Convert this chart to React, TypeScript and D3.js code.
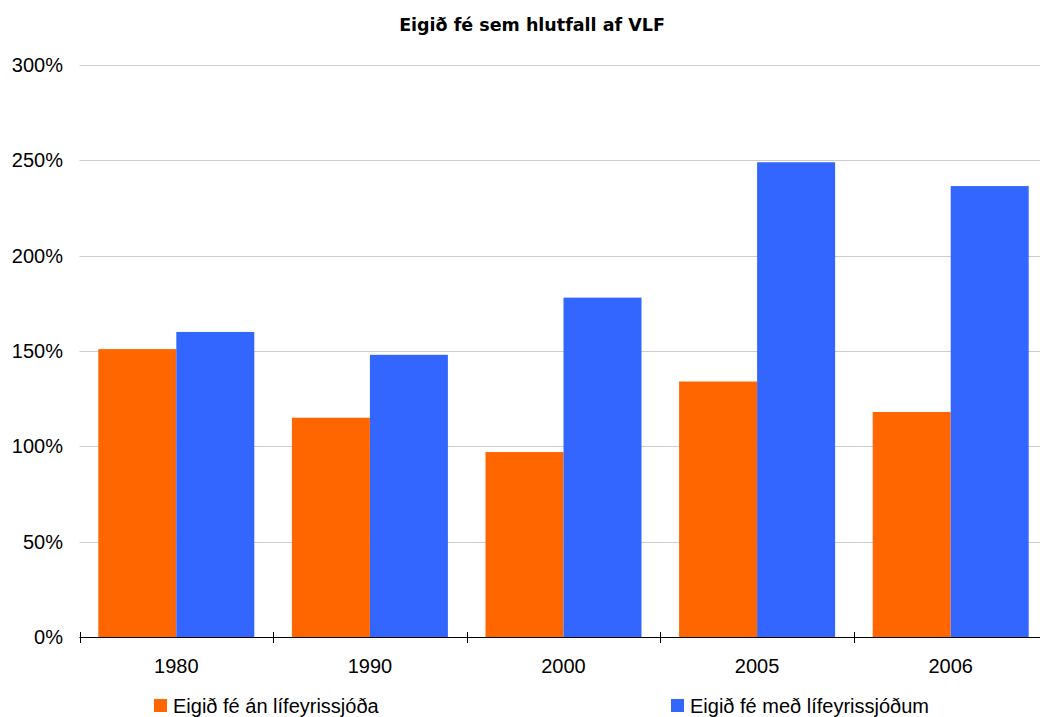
import React from "react";
import * as d3 from "d3";

const categories = ["1980", "1990", "2000", "2005", "2006"];
const seriesNames = ["Eigið fé án lífeyrissjóða", "Eigið fé með lífeyrissjóðum"];
const withoutPension = [151, 115, 97, 134, 118];
const withPension = [160, 148, 178, 249, 236.5];
const yTicks = [0, 50, 100, 150, 200, 250, 300];
const colors = ["#ff6600", "#3366ff"];
const title = "Eigið fé sem hlutfall af VLF";

const W = 1040;
const H = 717;
const FONT = "'Liberation Sans', Arial, sans-serif";

export default function App() {
  const x = d3.scaleBand<string>().domain(categories).range([79.5, 1047.5]).paddingInner(0).paddingOuter(0);
  const xs = d3.scaleBand<number>().domain([0, 1]).range([0, x.bandwidth()]).paddingInner(0).paddingOuter(0.241);
  const y = d3.scaleLinear().domain([0, 300]).range([637, 65]);
  const series = [withoutPension, withPension];

  return (
    <svg width={W} height={H} style={{ position: "absolute", left: 0, top: 0, background: "#fff" }}>
      <rect x={0} y={0} width={W} height={H} fill="#fff" />
      <text x={532} y={31} textAnchor="middle" fontFamily="'DejaVu Sans', Verdana, sans-serif" fontWeight="bold" fontSize={17.5} fill="#000">
        {title}
      </text>
      {yTicks.map((t) => (
        <g key={t}>
          {t > 0 && (
            <line x1={79.5} x2={1040} y1={Math.round(y(t)) + 0.5} y2={Math.round(y(t)) + 0.5} stroke="#cccccc" strokeWidth={1} />
          )}
          <text x={63} y={y(t) + 7} textAnchor="end" fontFamily={FONT} fontSize={20} fill="#000">
            {t}%
          </text>
        </g>
      ))}
      {categories.map((c, i) => (
        <g key={c}>
          {series.map((s, j) => (
            <rect
              key={j}
              x={(x(c) as number) + (xs(j) as number)}
              y={y(s[i])}
              width={xs.bandwidth()}
              height={y(0) - y(s[i])}
              fill={colors[j]}
            />
          ))}
          <text x={(x(c) as number) + x.bandwidth() / 2} y={673} textAnchor="middle" fontFamily={FONT} fontSize={20} fill="#000">
            {c}
          </text>
        </g>
      ))}
      <line x1={79.5} x2={1040} y1={637.5} y2={637.5} stroke="#000" strokeWidth={1} />
      {categories.map((c) => (
        <line key={c} x1={Math.round(x(c) as number) + 0.5} x2={Math.round(x(c) as number) + 0.5} y1={632} y2={643} stroke="#000" strokeWidth={1} />
      ))}
      {seriesNames.map((n, j) => {
        const lx = j === 0 ? 154 : 671;
        return (
          <g key={n}>
            <rect x={lx} y={699} width={13} height={13} fill={colors[j]} />
            <text x={lx + 19} y={712.5} fontFamily={FONT} fontSize={20} fill="#000">
              {n}
            </text>
          </g>
        );
      })}
    </svg>
  );
}
